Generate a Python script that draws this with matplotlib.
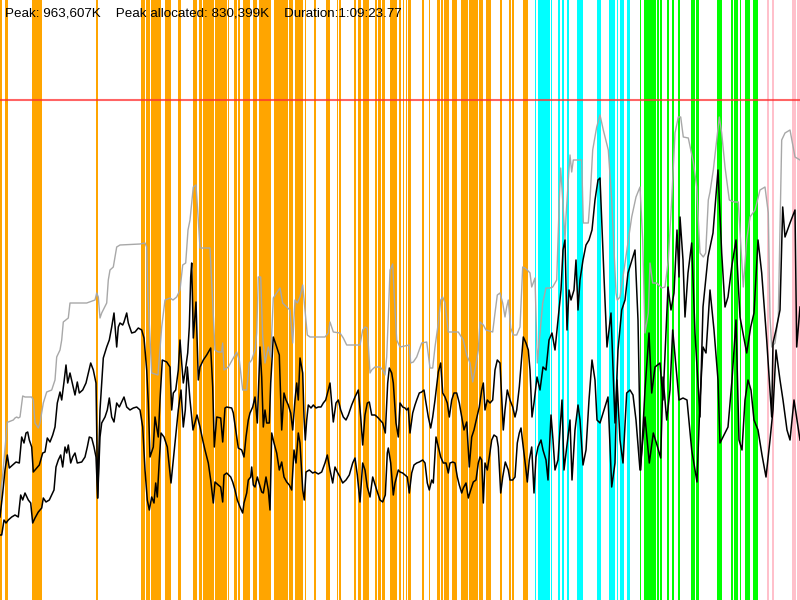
import matplotlib
matplotlib.use("Agg")
import matplotlib.pyplot as plt

# ---- data (time index 0..800, memory in arbitrary units) ----
peak_text = "Peak: 963,607K    Peak allocated: 830,399K    Duration:1:09:23.77"
limit_mem = 500

orange_start = [0, 5, 6.6, 32, 96.4, 141, 146, 148, 151, 155.7, 158.7, 165, 178, 193, 199, 203, 215, 228, 234, 238, 243, 253, 259, 274, 289, 295, 305, 314, 326, 337, 339.5, 354, 358, 363, 375, 378, 382, 390, 399, 403, 406, 408, 422, 429, 437, 441, 444, 452, 461, 469, 479, 486, 500, 509, 512, 523]
orange_end = [2, 5.8, 7.4, 42, 97.6, 145, 147.3, 150, 155, 158, 160.5, 170.5, 181, 196.5, 202, 214, 227, 229, 237, 240, 250, 257, 271, 288, 293, 303, 306, 316, 330, 338, 341, 356, 361, 369, 377, 381, 385, 397, 401, 404, 407, 411, 423.5, 430, 440, 443, 449, 457, 468, 478, 483, 491, 502, 511, 514, 528]
cyan_start = [535, 538, 551, 558, 562, 567, 577, 597, 609, 617, 620, 627]
cyan_end = [536, 550, 552, 559.5, 563.5, 568.5, 583, 601, 615, 618, 624, 630]
green_start = [640, 644, 657, 660, 667, 672, 678, 691, 696, 717, 731, 734, 740, 745, 753]
green_end = [641, 656, 658.5, 662, 669, 674, 680, 695, 699, 722, 733, 738, 741, 750, 758]
pink_start = [767, 772, 792, 797]
pink_end = [769, 774, 796, 800]

gray_t = [0, 2.7, 7.3, 8.3, 13.3, 15, 16.7, 18.3, 20, 22.7, 25, 31.7, 33.3, 35, 38.3, 40, 43.3, 46.7, 51.7, 55, 56.7, 60, 61.7, 63.3, 68.3, 70, 76.7, 86.7, 95, 96.7, 98.3, 100, 101.7, 106.7, 108.3, 110, 113.3, 116.7, 120, 140, 145, 146.7, 148, 150, 151.7, 158, 161.7, 165, 170, 173, 176.7, 180, 182.7, 185.7, 188, 190, 193.3, 196, 198.3, 200, 210,
          215, 218.3, 221.7, 222.7, 224, 228.3, 233.3, 236.7, 239.3, 242.7, 246.7, 249.3, 251.7, 255, 256.7, 258.3, 260.7, 262.7, 265, 268.3, 270.7, 273.3, 276.7, 280, 282.7, 286.7, 290, 292.7, 295, 297.3, 300, 302.7, 305, 307.3, 310, 325, 328.3, 330, 333.3, 340, 343.3, 346.7, 360, 362.7, 365, 367.3, 370, 371.7, 375, 380, 382.7, 385, 386.7, 388.3, 390, 392.7, 394.3, 396.7, 400,
          409.3, 410.7, 413.3, 416.7, 421.7, 426.7, 430, 432.7, 435, 438.3, 440.7, 442.7, 445, 448.3, 458.3, 463.3, 466.7, 470, 472.7, 475, 478.3, 480, 483.3, 486, 492.7, 495, 497.3, 500, 502.7, 505, 506.7, 508.3, 510.7, 513.3, 516.7, 520, 522.7, 525, 527.3, 530, 531.7, 535, 537.3, 542.7, 546, 550, 552.7, 556.7, 559.3, 560.7, 563.3, 565, 566, 568.3, 570, 571.7, 573.3, 581.7, 583.3, 588.3, 590, 592.7, 596.7, 600,
          603.3, 608.3, 611.7, 616, 617.3, 620, 624, 628.3, 631.7, 636, 640, 642.7, 645, 648.3, 650, 652.7, 656.7, 661.7, 665, 668.3, 671.7, 675, 678.3, 680.7, 683.3, 688.3, 693.3, 696.7, 700, 703.3, 705.7, 708.3, 710, 713.3, 716.7, 719.3, 721.7, 725, 729.3, 734, 738.3, 743.3, 746.7, 750, 755, 760, 765, 768.3, 770, 771.7, 775, 778.3, 781.7, 785, 790, 795, 800]
gray_mem = [100, 125, 178, 178, 180, 182, 183, 182, 183, 204, 203, 203, 200, 177, 172, 177, 197, 208, 210, 220, 243, 250, 260, 278, 282, 297, 297, 297, 300, 307, 303, 282, 287, 297, 320, 330, 333, 353, 355, 356, 357, 353, 303, 263, 227, 225, 273, 300, 302, 300, 303, 310, 335, 337, 370, 380, 413, 415, 380, 352, 352,
            250, 248, 248, 257, 230, 233, 242, 248, 240, 210, 210, 237, 240, 250, 267, 323, 323, 263, 237, 253, 243, 302, 307, 312, 297, 293, 290, 257, 300, 297, 303, 315, 290, 265, 263, 263, 267, 278, 268, 267, 262, 255, 255, 270, 273, 272, 227, 230, 233, 233, 230, 225, 243, 283, 330, 336, 303, 260, 253,
            255, 237, 238, 243, 257, 258, 232, 232, 253, 277, 300, 303, 297, 268, 268, 260, 245, 237, 218, 230, 250, 278, 275, 270, 268, 287, 305, 307, 297, 283, 293, 300, 272, 265, 265, 273, 333, 332, 330, 327, 313, 322, 237, 297, 312, 312, 313, 320, 400, 432, 390, 360, 383, 420, 445, 428, 440, 440, 377, 377, 400, 450, 473, 485,
            470, 450, 400, 307, 300, 303, 330, 360, 383, 403, 413, 360, 267, 287, 337, 317, 317, 312, 313, 340, 400, 467, 483, 483, 463, 462, 438, 413, 347, 343, 347, 400, 408, 430, 460, 483, 467, 433, 400, 398, 398, 313, 360, 383, 390, 410, 413, 387, 283, 253, 257, 283, 460, 467, 470, 443, 440]

upper_t = [0, 2.7, 5, 7.3, 9.3, 12.7, 16, 19.3, 21.7, 24, 26, 27.7, 29.3, 31.7, 33.3, 36.7, 39.3, 42.7, 45, 47.3, 50, 52.7, 55, 57.3, 60, 61.7, 64, 66, 67.7, 70, 72.7, 75, 77.3, 79.3, 82.7, 86, 88.3, 90.7, 93.3, 96, 97.7, 100, 103.3, 106.7, 109.3, 111.7, 114, 116.7, 118.3, 120, 122.7, 124, 126.7, 128.3, 131.7, 135, 138.3, 141.7, 144, 146.7, 148.3, 150, 153.3, 155, 158.3, 160, 162.3, 166.7, 170, 171.7, 173.3, 175.7, 178.3, 180, 181.7, 183.3, 185, 187.7, 189.3, 190.7, 191.7, 193.3, 196, 198.3,
           200, 203.3, 206.7, 210.7, 212.7, 214.3, 216.7, 220.7, 222.7, 225, 226.7, 231.7, 233.3, 236.7, 238.3, 241.7, 244, 246, 248.3, 250, 252.7, 255, 257.3, 260, 261.7, 263.3, 265, 266.7, 269.3, 270.7, 273.3, 276.7, 279.3, 281.7, 284, 286, 288.3, 290.7, 292.7, 295, 296.7, 298.3, 300, 302.7, 304, 305.3, 306.7, 308.3, 311, 313.3, 316, 318.3, 321, 323.3, 325.7, 328.3, 330, 331.7, 333.3, 336, 338.3, 340.7, 343.3, 346, 348.3, 351.7, 355, 358.3, 360.7, 362.7, 365, 367.3, 369.3, 371.7, 375, 378.3, 382.7, 385.3, 387.7, 389.3, 391.7, 393.3, 396, 398.3,
           400, 402.7, 405, 406.7, 408.3, 410, 412.7, 415, 416.7, 419.3, 421.7, 424, 426, 428.3, 430.7, 432.7, 435, 438.3, 440.7, 442.7, 445, 447.3, 449.3, 451.7, 454, 456.7, 459.3, 461.7, 464, 466.7, 469.3, 471.7, 474, 476.7, 479.3, 481.7, 483.3, 485, 487.3, 490, 492.7, 495, 497.3, 500, 501.7, 503.3, 505, 507.3, 510, 512.7, 515, 516.7, 519.3, 521.7, 523.3, 526, 528.3,
           530, 532, 534, 537, 540, 543, 546, 549, 552, 555, 558, 561, 563, 565, 567, 569, 571, 574, 576, 578, 580, 583, 586, 589, 592, 595, 598, 600, 604, 607, 611, 615, 618, 621.7, 625, 628, 632, 635, 638, 640.7, 645, 649, 651.7, 655, 660, 663, 668, 671, 674, 677, 679, 680, 683, 685, 688, 691.7, 695, 700, 703, 708, 713, 718, 721.7, 725, 728, 731.7, 736, 740, 746.7, 750.7, 754, 758, 761.7, 766.7, 771.7, 773, 776, 780, 782.7, 785, 790, 795, 796.7, 800]
upper_mem = [83, 107, 130, 145, 132, 135, 138, 137, 163, 157, 167, 168, 160, 153, 128, 132, 135, 147, 148, 162, 158, 165, 173, 197, 208, 200, 218, 235, 217, 227, 215, 205, 218, 207, 210, 217, 227, 237, 230, 217, 102, 190, 242, 253, 260, 273, 287, 253, 273, 277, 275, 278, 287, 277, 267, 268, 272, 270, 262, 230, 197, 143, 153, 183, 163, 200, 240, 238, 233, 190, 207, 210, 230, 260, 237, 217, 227, 247, 273, 323, 337, 262, 298, 220,
             233, 240, 245, 252, 213, 153, 183, 182, 158, 192, 193, 192, 187, 163, 152, 150, 143, 163, 180, 187, 193, 203, 177, 253, 223, 173, 190, 177, 177, 217, 263, 253, 245, 170, 207, 200, 195, 187, 170, 200, 217, 200, 242, 227, 183, 160, 180, 195, 192, 195, 192, 193, 193, 197, 200, 210, 217, 197, 178, 197, 200, 190, 183, 180, 185, 195, 203, 210, 183, 155, 185, 197, 198, 185, 185, 182, 177, 167, 217, 232, 227, 217, 177, 163,
             197, 193, 192, 190, 192, 167, 187, 195, 200, 207, 208, 210, 197, 183, 172, 183, 200, 228, 237, 207, 203, 197, 183, 200, 207, 207, 197, 183, 170, 178, 133, 163, 170, 182, 193, 210, 217, 190, 200, 197, 200, 230, 240, 237, 203, 170, 190, 210, 200, 193, 183, 190, 213, 243, 263, 257, 250,
             230, 183, 197, 223, 210, 233, 230, 260, 267, 250, 280, 310, 350, 360, 270, 310, 300, 310, 340, 290, 320, 340, 355, 360, 370, 400, 420, 422, 323, 253, 287, 177, 250, 290, 300, 327, 340, 350, 280, 130, 210, 267, 207, 233, 237, 200, 313, 290, 307, 370, 323, 383, 340, 283, 327, 357, 267, 183, 293, 343, 367, 430, 347, 293, 303, 333, 360, 283, 247, 273, 287, 360, 327, 260, 183, 257, 270, 290, 393, 363, 377, 390, 253, 293]

lower_t = [0, 1.7, 4, 6, 8.3, 11.7, 15, 18.3, 20.7, 22.7, 25, 28.3, 30.7, 32.7, 35, 38.3, 41.7, 43.3, 46, 49.3, 51.7, 54, 56, 58.3, 60.7, 62.7, 65, 66.7, 68.3, 70.7, 72.7, 75, 77.3, 81.7, 85, 87.3, 89.3, 91.7, 94, 96, 97.7, 100, 101.7, 105, 107.3, 109.3, 111.7, 114, 116.7, 119.3, 121.7, 124, 126.7, 130, 133.3, 136.7, 140,
           142.7, 145, 147.3, 149.3, 151.7, 154, 155.7, 157.3, 159.3, 161, 164, 167.3, 171, 173.3, 175.7, 178.3, 181, 183.3, 185.3, 187.3, 190, 193, 197,
           200, 202.7, 205, 208.3, 210.7, 213.3, 215, 218.3, 220.7, 222.7, 224, 226.7, 230.7, 232.7, 235, 237.3, 240, 242.7, 244, 246.7, 248.3, 250.7, 251.7, 253.3, 255, 257.3, 261.7, 263.3, 266, 268.3, 270, 271.7, 274, 276.7, 279.3, 281.7, 284, 286.7, 289.3, 291.7, 294, 296, 298.3, 300, 302.7, 304.3, 306, 309.3, 312.7, 315, 318.3, 321.7, 325, 327.3, 330, 332.7, 335, 337.3, 340, 342.7, 346, 349.3, 352.7, 355, 357.3, 360, 362.7, 365, 367.3, 370, 372.7, 376.7, 380, 382.7, 385.3, 387.3, 388.3, 390.7, 393.3, 395, 398.3,
           400, 402.7, 405, 407.3, 409.3, 411.7, 414, 416.7, 419.3, 422.7, 425, 427.3, 429.3, 431.7, 433.3, 436, 438.3, 440.7, 443.3, 446, 448.3, 450, 452.7, 455, 457.3, 459.3, 461.7, 463.3, 466, 468.3, 470.7, 473.3, 476, 478.3, 480, 481.7, 483.3, 485, 487.3, 489.3, 491.7, 494, 496.7, 498.3, 500.7, 502.7, 505.3, 508.3, 510, 512.7, 515, 517.3, 519.3, 521, 523.3, 526, 527.3, 529.3,
           531.7, 534, 536, 538, 541, 543, 546, 548, 551, 553, 555, 558, 560, 562, 564, 567, 570, 572, 575, 578, 580, 583, 586, 589, 592, 595, 597, 600, 604, 608, 611.7, 615, 617, 620, 623, 626.7, 630, 633, 636, 640, 645, 649.3, 653.3, 657, 660.7, 663, 666.7, 670, 672.7, 676, 679, 683, 687, 691.7, 697, 700, 703, 706, 710, 714, 718, 720, 724, 728, 732, 736, 739, 742, 745, 748, 751, 754, 758, 762, 766, 770, 773, 776, 780, 783, 787, 790, 794, 797, 800]
lower_mem = [65, 65, 80, 77, 80, 83, 85, 83, 105, 100, 107, 100, 97, 77, 82, 88, 92, 102, 98, 100, 105, 110, 133, 140, 145, 133, 153, 147, 155, 137, 143, 147, 137, 138, 143, 153, 163, 162, 153, 143, 102, 163, 177, 183, 190, 202, 183, 178, 197, 193, 198, 203, 193, 190, 192, 193, 190,
             173, 130, 100, 90, 103, 97, 117, 103, 140, 167, 163, 153, 117, 140, 163, 190, 210, 173, 190, 233, 200, 170, 185,
             173, 160, 150, 137, 120, 97, 118, 115, 113, 98, 125, 127, 123, 118, 110, 100, 93, 87, 97, 107, 120, 123, 133, 115, 113, 123, 108, 107, 123, 110, 90, 167, 157, 147, 130, 138, 123, 118, 115, 110, 150, 137, 167, 157, 110, 100, 128, 130, 127, 128, 126, 128, 137, 145, 130, 117, 133, 128, 123, 117, 120, 125, 137, 142, 125, 98, 137, 130, 113, 103, 123, 110, 100, 98, 105, 147, 152, 137, 105, 117, 130,
             128, 127, 125, 123, 107, 127, 135, 137, 138, 140, 137, 117, 110, 120, 117, 163, 153, 143, 137, 137, 127, 137, 138, 137, 123, 115, 107, 112, 117, 102, 110, 118, 120, 137, 143, 140, 97, 137, 130, 143, 160, 165, 163, 153, 107, 123, 138, 130, 120, 120, 123, 157, 167, 172, 153, 130, 118, 140,
             153, 107, 143, 153, 160, 150, 140, 120, 185, 160, 130, 140, 170, 200, 130, 155, 180, 120, 170, 195, 180, 135, 150, 200, 240, 220, 180, 177, 190, 203, 113, 137, 220, 160, 137, 207, 210, 205, 180, 130, 183, 137, 167, 155, 142, 223, 180, 210, 270, 233, 200, 202, 200, 150, 118, 200, 253, 247, 310, 270, 220, 157, 165, 173, 220, 280, 160, 150, 200, 220, 210, 180, 170, 145, 123, 160, 190, 250, 220, 200, 170, 160, 200, 180, 160]

# ---- figure ----
fig = plt.figure(figsize=(8, 6), dpi=100)
ax = fig.add_axes([0, 0, 1, 1])
ax.set_xlim(0, 800)
ax.set_ylim(0, 600)
ax.axis("off")

pad = 0.35
for starts, ends, col in [(orange_start, orange_end, "#FFA500"),
                          (cyan_start, cyan_end, "#00FFFF"),
                          (green_start, green_end, "#00FF00"),
                          (pink_start, pink_end, "#FFC0CB")]:
    for s, e in zip(starts, ends):
        ax.axvspan(s - pad, e + pad, color=col, lw=0, zorder=1, antialiased=False)

ax.axhline(limit_mem, color="#ff3030", alpha=0.75, lw=1.5, zorder=4)
ax.plot(gray_t, gray_mem, color="#a8a8a8", lw=1.0, zorder=2)
ax.plot(upper_t, upper_mem, color="black", lw=1.1, zorder=3)
ax.plot(lower_t, lower_mem, color="black", lw=1.1, zorder=3)

ax.text(5 / 800, 1 - 13 / 600, peak_text, transform=ax.transAxes,
        fontsize=9.6, family="Liberation Sans", va="center", ha="left", zorder=5)

fig.savefig("out.png", dpi=100)
